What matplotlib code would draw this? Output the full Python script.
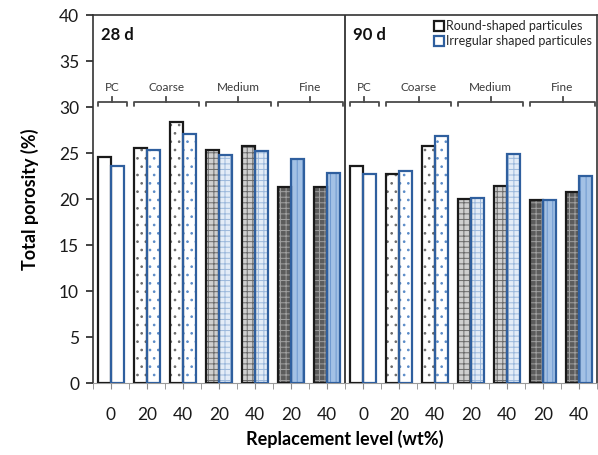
import matplotlib
matplotlib.use('Agg')
import matplotlib.pyplot as plt
import numpy as np
from matplotlib.lines import Line2D

plt.rcParams['font.family'] = ['Lato', 'DejaVu Sans']
plt.rcParams['hatch.linewidth'] = 0.7

# replacement levels shown under each bar pair (28 d block, then 90 d block)
levels = ['0', '20', '40', '20', '40', '20', '40']
x_labels = levels + levels

groups = ['PC', 'Coarse', 'Medium', 'Fine']
group_span = [(0, 0), (1, 2), (3, 4), (5, 6)]
# material of each of the 7 slots in a block
slot_kind = ['pc', 'coarse', 'coarse', 'medium', 'medium', 'fine', 'fine']

round_28 = [24.6, 25.6, 28.4, 25.3, 25.8, 21.3, 21.3]
irreg_28 = [23.6, 25.3, 27.1, 24.8, 25.2, 24.4, 22.8]
round_90 = [23.6, 22.7, 25.8, 20.0, 21.4, 19.9, 20.8]
irreg_90 = [22.7, 23.1, 26.8, 20.1, 24.9, 19.9, 22.5]

ROUND_EDGE = '#1a1a1a'
IRREG_EDGE = '#2f5f9e'

# (face, hatch, hatch colour) per material
ROUND_STYLE = {
    'pc': ('white', None, None),
    'coarse': ('white', '..', '#6a6a6a'),
    'medium': ('#cfcfcf', '+++', '#6a6a6a'),
    'fine': ('#5c5c5c', '+++', '#a0a0a0'),
}
IRREG_STYLE = {
    'pc': ('white', None, None),
    'coarse': ('white', '..', '#5a8bc8'),
    'medium': ('#e3ecf7', '+++', '#9bb8dc'),
    'fine': ('#a3c1e5', '|||', '#6d98cf'),
}

BAR_W = 0.36
BRACKET_Y = 30.6
BRACKET_COLOR = '#4a4a4a'


def draw_bar(ax, x, h, style, edge):
    face, hatch, hcol = style
    if hatch:
        ax.bar(x, h, BAR_W, color=face, hatch=hatch, edgecolor=hcol,
               linewidth=0, align='edge', zorder=2)
    else:
        ax.bar(x, h, BAR_W, color=face, linewidth=0, align='edge', zorder=2)
    ax.bar(x, h, BAR_W, fill=False, edgecolor=edge, linewidth=1.6,
           align='edge', zorder=3)


def draw_bracket(ax, x0, x1, label):
    mid = (x0 + x1) / 2
    ax.plot([x0, x0, x1, x1], [BRACKET_Y - 0.5, BRACKET_Y, BRACKET_Y,
                              BRACKET_Y - 0.5],
            color=BRACKET_COLOR, lw=1.3, solid_capstyle='round', zorder=4)
    ax.plot([mid, mid], [BRACKET_Y, BRACKET_Y + 0.45],
            color=BRACKET_COLOR, lw=1.3, zorder=4)
    ax.text(mid, BRACKET_Y + 1.55, label, ha='center', va='center',
            fontsize=8.5, color='#3a3a3a')


fig = plt.figure(figsize=(5.98, 4.55), dpi=100)
ax = fig.add_axes([0.1555, 0.158, 0.843, 0.809])

blocks = [(0, round_28, irreg_28, '28 d'), (7, round_90, irreg_90, '90 d')]
for offset, r_vals, i_vals, title in blocks:
    for k in range(len(levels)):
        x = offset + k
        kind = slot_kind[k]
        draw_bar(ax, x - BAR_W, r_vals[k], ROUND_STYLE[kind], ROUND_EDGE)
        draw_bar(ax, x, i_vals[k], IRREG_STYLE[kind], IRREG_EDGE)
    for name, (a, b) in zip(groups, group_span):
        draw_bracket(ax, offset + a - 0.37, offset + b + 0.45, name)
    ax.text(offset - 0.27, 37.8, title, fontsize=12, fontweight='bold',
            va='center', ha='left', color='#111111')

# divider between the two curing ages
ax.axvline(6.5, color='#333333', lw=1.3, zorder=5)

ax.set_xlim(-0.5, 13.5)
ax.set_ylim(0, 40)
ax.set_yticks(np.arange(0, 41, 5))
ax.set_xticks(np.arange(len(x_labels)))
ax.set_xticklabels(x_labels)
ax.set_xticks(np.arange(-0.5, 14, 1), minor=True)
ax.tick_params(axis='x', which='both', direction='out', length=4,
               color='#8c8c8c', labelsize=12.5, pad=13, labelcolor='#1a1a1a')
ax.tick_params(axis='y', direction='out', length=5, width=1.2,
               color='#222222', labelsize=12.5, labelcolor='#1a1a1a', pad=5)
for side in ['left', 'right', 'top']:
    ax.spines[side].set_color('#333333')
    ax.spines[side].set_linewidth(1.2)
ax.spines['bottom'].set_color('#9a9a9a')

ax.set_ylabel('Total porosity (%)', fontsize=13, fontweight='bold',
              labelpad=14)
ax.set_xlabel('Replacement level (wt%)', fontsize=13, fontweight='bold',
              labelpad=5)

handles = [
    Line2D([], [], ls='none', marker='s', ms=6.5, mfc='white',
           mec=ROUND_EDGE, mew=1.6, label='Round-shaped particules'),
    Line2D([], [], ls='none', marker='s', ms=6.5, mfc='white',
           mec=IRREG_EDGE, mew=1.6, label='Irregular shaped particules'),
]
ax.legend(handles=handles, loc='upper right', bbox_to_anchor=(1.0, 1.0),
          frameon=False, fontsize=9, handlelength=0.6, handletextpad=0.3,
          labelspacing=0.25, borderaxespad=0.2, borderpad=0.2,
          labelcolor='#262626')

fig.savefig('out.png', dpi=100)
